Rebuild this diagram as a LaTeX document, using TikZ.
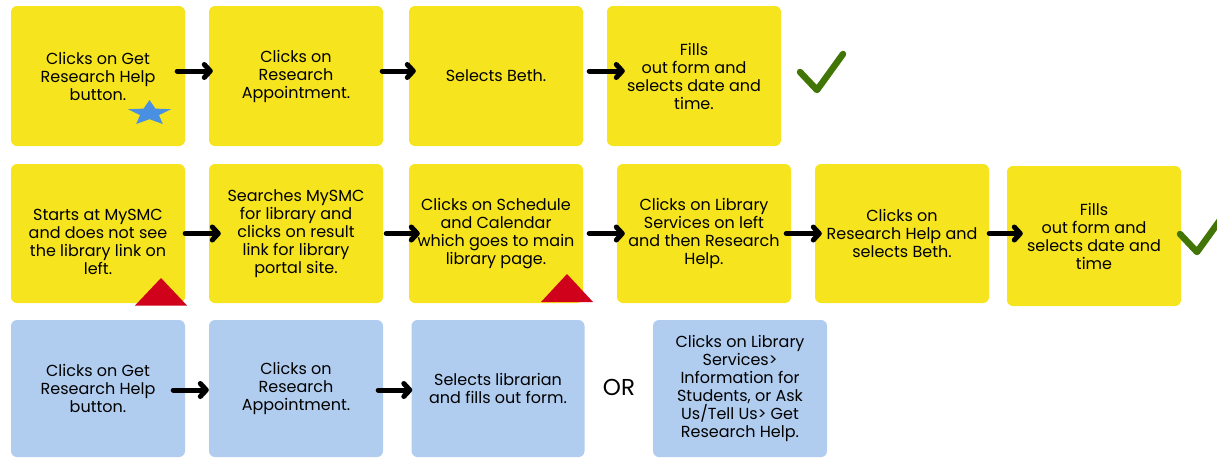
\documentclass[tikz,border=0pt]{standalone}
\usepackage{fontspec}
\setmainfont{Poppins}
\usetikzlibrary{arrows.meta}
\definecolor{ylw}{HTML}{F6E41E}
\definecolor{lblue}{HTML}{B0CDF0}
\definecolor{starblue}{HTML}{4A90E2}
\definecolor{trired}{HTML}{D0021B}
\definecolor{chk}{HTML}{417505}
\begin{document}
\begin{tikzpicture}[x=1pt,y=-1pt,
  txt/.style={inner sep=0pt, align=center, font=\fontsize{16}{18}\selectfont, text=black},
  box/.style={txt, rounded corners=6pt, minimum width=174pt},
  ybox/.style={box, fill=ylw, minimum height=140pt},
  bbox/.style={box, fill=lblue, minimum height=137pt},
  arr/.style={draw=black, line width=5pt, line cap=round,
    -{Straight Barb[length=6pt,width=13pt,round]}},
  check/.style={draw=chk, line width=6.5pt, line cap=round, line join=round},
]
\useasboundingbox (0,0) rectangle (1217,458);
% row 1
\node[ybox] (a1) at (98,76) {Clicks on Get\\Research Help\\button.};
\node[ybox] (a2) at (296,76) {Clicks on\\Research\\Appointment.};
\node[ybox] (a3) at (496,76) {Selects Beth.};
\node[ybox] (a4) at (694,76) {Fills\\out form and\\selects date and\\time.};
% row 2
\node[ybox, minimum height=139pt] (b1) at (98,233.5) {};
\node[txt] (b1t) at ([yshift=-8pt]b1.center) {Starts at MySMC\\and does not see\\the library link on\\left.};
\node[ybox, minimum height=139pt] (b2) at (296,233.5) {Searches MySMC\\for library and\\clicks on result\\link for library\\portal site.};
\node[ybox, minimum height=139pt] (b3) at (496,233.5) {Clicks on Schedule\\and Calendar\\which goes to main\\library page.};
\node[ybox, minimum height=139pt] (b4) at (704,233.5) {Clicks on Library\\Services on left\\and then Research\\Help.};
\node[ybox, minimum height=139pt] (b5) at (902,233.5) {Clicks on\\Research Help and\\selects Beth.};
\node[ybox] (b6) at (1094,236) {Fills\\out form and\\selects date and\\time};
% row 3
\node[bbox] (c1) at (98,388.5) {Clicks on Get\\Research Help\\button.};
\node[bbox] (c2) at (296,388.5) {Clicks on\\Research\\Appointment.};
\node[bbox, minimum width=173pt] (c3) at (498,388.5) {Selects librarian\\and fills out form.};
\node[font=\fontsize{23}{26}\selectfont] (or) at (619,387) {OR};
\node[bbox] (c4) at (740,388.5) {Clicks on Library\\Services>\\Information for\\Students, or Ask\\Us/Tell Us> Get\\Research Help.};
% arrows
\draw[arr] ([xshift=-8pt,yshift=5pt]a1.east) -- ([xshift=4pt,yshift=5pt]a2.west);
\draw[arr] ([xshift=-1pt,yshift=5pt]a2.east) -- ([xshift=7pt,yshift=5pt]a3.west);
\draw[arr] ([xshift=6pt,yshift=5pt]a3.east) -- ([xshift=18pt,yshift=5pt]a4.west);
\draw[arr] ([xshift=0pt]b1.east) -- ([xshift=12pt]b2.west);
\draw[arr] ([xshift=3pt]b2.east) -- ([xshift=11pt]b3.west);
\draw[arr] ([xshift=6pt]b3.east) -- ([xshift=8pt]b4.west);
\draw[arr] ([xshift=-5pt]b4.east) -- ([xshift=7pt]b5.west);
\draw[arr] ([xshift=0pt]b5.east) -- ([xshift=16pt,yshift=2.5pt]b6.west);
\draw[arr] ([xshift=-12pt,yshift=-1.5pt]c1.east) -- ([xshift=0pt,yshift=-1.5pt]c2.west);
\draw[arr] ([xshift=-5pt,yshift=-1.5pt]c2.east) -- ([xshift=1pt,yshift=-1.5pt]c3.west);
% star
\fill[starblue] (149.5,100.0) -- (155.4,108.6) -- (171.0,109.2) -- (159.0,115.1) -- (162.8,124.0)
  -- (149.5,119.2) -- (136.2,124.0) -- (140.0,115.1) -- (128.0,109.2) -- (143.6,108.6) -- cycle;
% red triangles
\fill[trired] (135,305.5) -- (161,278) -- (187,305.5) -- cycle;
\fill[trired] (541,302) -- (567,274) -- (593,302) -- cycle;
% checkmarks
\draw[check] (800,72) -- (817,90) -- (843,54);
\draw[check] (1180,234) -- (1197,252) -- (1223,216);
\end{tikzpicture}
\end{document}
